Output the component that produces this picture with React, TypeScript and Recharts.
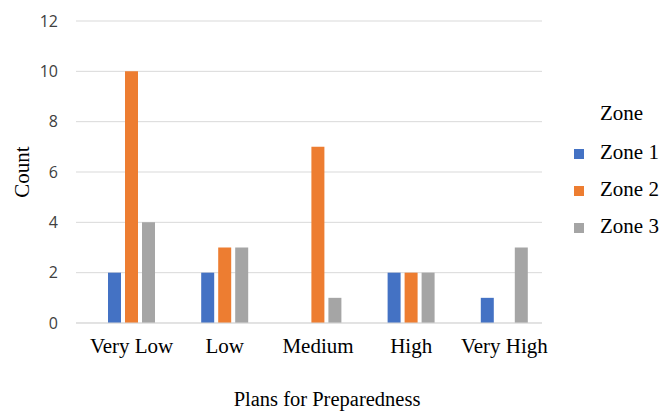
import { BarChart, Bar, XAxis, YAxis, CartesianGrid } from 'recharts'

const categories = ['Very Low', 'Low', 'Medium', 'High', 'Very High']
const zone1 = [2, 2, 0, 2, 1]
const zone2 = [10, 3, 7, 2, 0]
const zone3 = [4, 3, 1, 2, 3]
const yTicks = [0, 2, 4, 6, 8, 10, 12]

const seriesColors = ['#4472C4', '#ED7D31', '#A5A5A5']
const seriesNames = ['Zone 1', 'Zone 2', 'Zone 3']

const data = categories.map((name, i) => ({
  name,
  'Zone 1': zone1[i],
  'Zone 2': zone2[i],
  'Zone 3': zone3[i],
}))

const serif = '"Liberation Serif", "Times New Roman", serif'

// legend is an overlay so it does not shrink the plot area
function ZoneLegend() {
  return (
    <div style={{ position: 'absolute', left: 574, top: 95, fontFamily: serif, fontSize: 21, color: '#000', lineHeight: '37px' }}>
      <div style={{ paddingLeft: 26, marginBottom: 2 }}>Zone</div>
      {seriesNames.map((n, i) => (
        <div key={n} style={{ display: 'flex', alignItems: 'center' }}>
          <span style={{ width: 10, height: 10, background: seriesColors[i], display: 'inline-block', marginRight: 16, marginTop: 3 }} />
          <span>{n}</span>
        </div>
      ))}
    </div>
  )
}

export default function App() {
  return (
    <div style={{ position: 'absolute', left: 0, top: 0, width: 661, height: 412, background: '#fff' }}>
      <BarChart
        width={661}
        height={412}
        data={data}
        margin={{ top: 21, right: 119, bottom: 0, left: 0 }}
        barSize={13}
        barGap={4}
      >
        <CartesianGrid vertical={false} stroke="#d9d9d9" />
        <XAxis
          dataKey="name"
          height={89}
          padding={{ left: 9, right: -9 }}
          axisLine={{ stroke: '#d9d9d9' }}
          tickLine={false}
          tick={{ fontFamily: serif, fontSize: 21, fill: '#000' }}
          tickMargin={9}
          interval={0}
          label={{ value: 'Plans for Preparedness', position: 'insideBottom', offset: 6, dx: 18, fontFamily: serif, fontSize: 20.5, fill: '#000' }}
        />
        <YAxis
          domain={[0, 12]}
          ticks={yTicks}
          axisLine={false}
          tickLine={false}
          width={76}
          tickMargin={12}
          tick={{ fontFamily: '"Open Sans", sans-serif', fontSize: 16, fill: '#404040' }}
          label={{ value: 'Count', angle: -90, position: 'insideLeft', dx: 17, fontFamily: serif, fontSize: 21, fill: '#000', style: { textAnchor: 'middle' } }}
        />
        {seriesNames.map((n, i) => (
          <Bar key={n} dataKey={n} fill={seriesColors[i]} isAnimationActive={false} />
        ))}
      </BarChart>
      <ZoneLegend />
    </div>
  )
}
